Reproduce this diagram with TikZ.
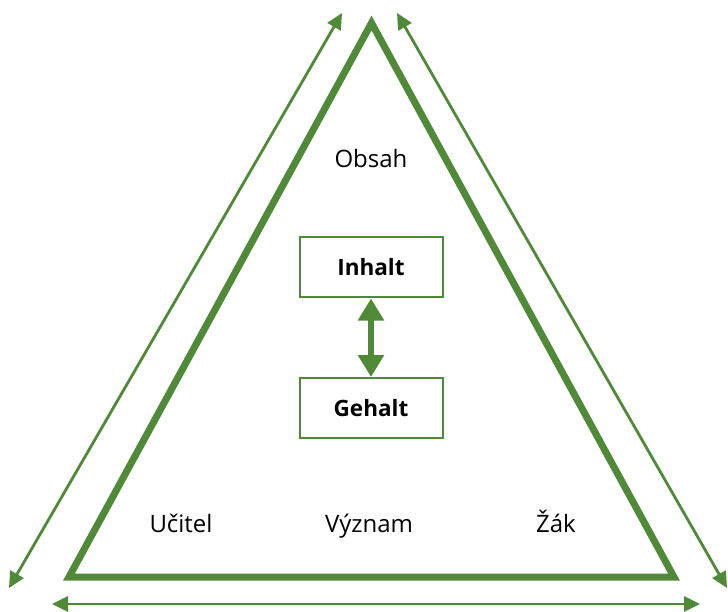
\documentclass[tikz,border=0pt]{standalone}
\usepackage{fontspec}
\setmainfont{Open Sans}
\usetikzlibrary{arrows.meta}
\definecolor{grn}{RGB}{80,137,56}
\tikzset{
  lbl/.style={font=\fontsize{24}{28}\selectfont, text=black, inner sep=0pt, anchor=base},
  boxnode/.style={draw=grn, line width=2pt, minimum width=143pt, minimum height=60pt, font=\fontsize{22.5}{26}\selectfont\bfseries, inner sep=0pt},
  outerarrow/.style={draw=grn, line width=2.8pt, {Triangle[length=16pt,width=15pt]}-{Triangle[length=16pt,width=15pt]}},
  midarrow/.style={draw=grn, line width=5.5pt, {Triangle[length=22pt,width=25pt]}-{Triangle[length=22pt,width=25pt]}},
  tri/.style={draw=grn, line width=7pt, miter limit=10}
}
\begin{document}
\begin{tikzpicture}[x=1pt,y=-1pt]
\useasboundingbox (0,0) rectangle (728,612);
% triangle corners
\coordinate (A) at (371.5,23);
\coordinate (B) at (69,577);
\coordinate (C) at (674,577);
\draw[tri] (A) -- (B) -- (C) -- cycle;
% outer arrows ends
\coordinate (L1) at (342,13);
\coordinate (L2) at (9,588);
\coordinate (R1) at (397,13);
\coordinate (R2) at (727,588);
\coordinate (D1) at (52,604);
\coordinate (D2) at (700,604);
\draw[outerarrow] (L1) -- (L2);
\draw[outerarrow] (R1) -- (R2);
\draw[outerarrow] (D1) -- (D2);
% labels
\node[lbl] (obsah) at (371,168) {Obsah};
\node[lbl] (ucitel) at (181,532) {Učitel};
\node[lbl] (vyznam) at (369,532) {Význam};
\node[lbl] (zak) at (556,532) {Žák};
% boxes
\node[boxnode] (inhalt) at (371,267.5) {Inhalt};
\node[boxnode] (gehalt) at (371,408) {Gehalt};
\draw[midarrow] (inhalt.south) -- (gehalt.north);
\end{tikzpicture}
\end{document}
